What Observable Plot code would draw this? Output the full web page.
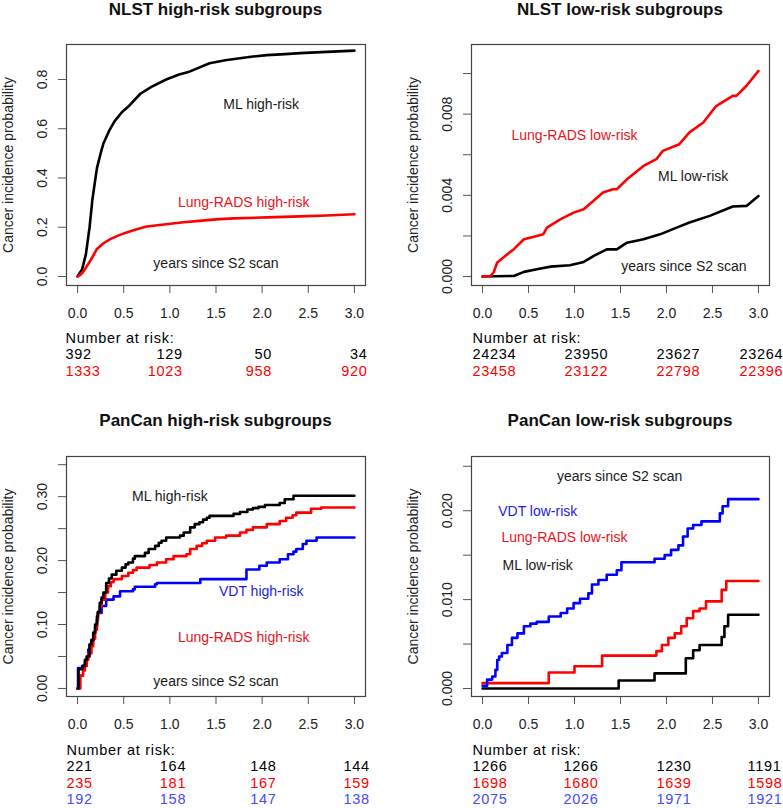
<!DOCTYPE html>
<html><head><meta charset="utf-8">
<script src="https://cdn.jsdelivr.net/npm/d3@7"></script>
<script src="https://cdn.jsdelivr.net/npm/@observablehq/plot@0.6"></script>
<style>
html,body{margin:0;padding:0;background:#fff;}
#root{position:relative;width:783px;height:808px;overflow:hidden;background:#fff;}
.title{position:absolute;font:bold 17px "Liberation Sans",Arial,sans-serif;line-height:19px;text-align:center;color:#111;white-space:nowrap;}
.abs{position:absolute;}
</style></head><body><div id="root"></div>
<script>
// ---------- shared axis values ----------
const xTicks = [0, 0.5, 1, 1.5, 2, 2.5, 3];
const xTickLabels = ["0.0", "0.5", "1.0", "1.5", "2.0", "2.5", "3.0"];
const riskTimes = [0, 1, 2, 3];

// ---------- NLST high-risk ----------
const nlstHighML = [[0,0],[0.05,0.03],[0.09,0.09],[0.13,0.2],[0.16,0.31],[0.19,0.39],[0.21,0.44],[0.25,0.5],[0.28,0.54],[0.34,0.59],[0.4,0.63],[0.48,0.667],[0.55,0.69],[0.68,0.742],[0.8,0.77],[0.96,0.80],[1.1,0.82],[1.2,0.83],[1.43,0.866],[1.6,0.878],[1.7,0.883],[1.9,0.893],[2.05,0.899],[2.25,0.903],[2.41,0.907],[2.7,0.912],[3.0,0.917]];
const nlstHighLungRADS = [[0,0],[0.04,0.01],[0.07,0.024],[0.14,0.065],[0.21,0.112],[0.28,0.135],[0.36,0.153],[0.45,0.168],[0.54,0.18],[0.65,0.193],[0.75,0.203],[0.96,0.212],[1.15,0.22],[1.32,0.226],[1.5,0.232],[1.69,0.236],[2.05,0.240],[2.41,0.244],[2.7,0.248],[3.0,0.253]];
const nlstHighYTicks = [0, 0.2, 0.4, 0.6, 0.8];
const nlstHighYLabelTicks = [0, 0.2, 0.4, 0.6, 0.8];
const nlstHighYLabels = ["0.0", "0.2", "0.4", "0.6", "0.8"];
const nlstHighLabelText = ["ML high-risk", "Lung-RADS high-risk", "years since S2 scan"];
const nlstHighLabelX = [1.99, 1.80, 1.5];
const nlstHighLabelY = [0.70, 0.30, 0.053];
const nlstHighLabelKey = ["ML", "LR", "ML"];
const nlstHighAtRiskML = [392, 129, 50, 34];
const nlstHighAtRiskLungRADS = [1333, 1023, 958, 920];

// ---------- NLST low-risk ----------
const nlstLowLungRADS = [[0,0],[0.087,0.00003],[0.12,0.0002],[0.16,0.00069],[0.27,0.0011],[0.34,0.00135],[0.45,0.00184],[0.59,0.002],[0.66,0.00208],[0.70,0.00241],[0.845,0.00282],[0.99,0.00315],[1.10,0.00332],[1.31,0.00414],[1.42,0.0043],[1.46,0.0043],[1.57,0.00479],[1.75,0.00545],[1.89,0.00578],[1.96,0.00619],[2.14,0.00652],[2.25,0.0071],[2.40,0.00759],[2.54,0.0084],[2.72,0.0089],[2.76,0.0089],[2.87,0.0094],[3.0,0.01013]];
const nlstLowML = [[0,0],[0.34,0.00003],[0.45,0.00023],[0.59,0.00036],[0.74,0.00049],[0.95,0.00056],[1.10,0.00072],[1.21,0.00102],[1.35,0.00134],[1.46,0.00134],[1.57,0.00167],[1.75,0.00184],[1.93,0.00208],[2.11,0.00241],[2.25,0.00266],[2.47,0.00299],[2.72,0.00345],[2.87,0.00348],[3.0,0.00397]];
const nlstLowYTicks = [0, 0.002, 0.004, 0.006, 0.008, 0.010];
const nlstLowYLabelTicks = [0, 0.004, 0.008];
const nlstLowYLabels = ["0.000", "0.004", "0.008"];
const nlstLowLabelText = ["Lung-RADS low-risk", "ML low-risk", "years since S2 scan"];
const nlstLowLabelX = [1.0, 2.29, 2.19];
const nlstLowLabelY = [0.00695, 0.00493, 0.00049];
const nlstLowLabelKey = ["LR", "ML", "ML"];
const nlstLowAtRiskML = [24234, 23950, 23627, 23264];
const nlstLowAtRiskLungRADS = [23458, 23122, 22798, 22396];

// ---------- PanCan high-risk ----------
const panHighML = [[0,0],[0.01,0.03],[0.05,0.035],[0.08,0.045],[0.1,0.05],[0.13,0.069],[0.15,0.075],[0.17,0.087],[0.19,0.10],[0.21,0.113],[0.22,0.12],[0.24,0.134],[0.26,0.142],[0.28,0.15],[0.31,0.165],[0.34,0.172],[0.37,0.178],[0.42,0.184],[0.48,0.189],[0.52,0.194],[0.55,0.197],[0.6,0.203],[0.62,0.207],[0.73,0.212],[0.77,0.218],[0.84,0.223],[0.88,0.228],[0.91,0.231],[0.96,0.236],[1.11,0.239],[1.15,0.244],[1.22,0.252],[1.27,0.257],[1.32,0.26],[1.36,0.264],[1.40,0.267],[1.43,0.27],[1.69,0.273],[1.76,0.276],[1.84,0.28],[1.90,0.282],[1.96,0.284],[2.03,0.287],[2.19,0.290],[2.245,0.296],[2.34,0.3015],[3.0,0.3015]];
const panHighLungRADS = [[0,0],[0.03,0.02],[0.06,0.028],[0.08,0.035],[0.1,0.045],[0.116,0.055],[0.15,0.066],[0.17,0.078],[0.19,0.092],[0.21,0.105],[0.22,0.118],[0.24,0.128],[0.26,0.139],[0.3,0.15],[0.33,0.16],[0.36,0.166],[0.39,0.171],[0.48,0.176],[0.55,0.181],[0.6,0.185],[0.64,0.189],[0.78,0.193],[0.86,0.197],[0.96,0.202],[1.04,0.207],[1.18,0.21],[1.22,0.218],[1.29,0.223],[1.35,0.227],[1.40,0.231],[1.49,0.236],[1.61,0.239],[1.76,0.244],[1.83,0.248],[1.90,0.252],[2.05,0.257],[2.19,0.262],[2.26,0.267],[2.33,0.271],[2.37,0.275],[2.53,0.281],[2.64,0.283],[3.0,0.283]];
const panHighVDT = [[0,0],[0.005,0.032],[0.06,0.036],[0.08,0.042],[0.1,0.05],[0.116,0.061],[0.13,0.068],[0.15,0.076],[0.17,0.087],[0.19,0.097],[0.21,0.108],[0.22,0.118],[0.26,0.129],[0.31,0.139],[0.39,0.144],[0.46,0.152],[0.6,0.155],[0.62,0.159],[0.84,0.163],[0.86,0.165],[1.33,0.171],[1.83,0.186],[1.97,0.192],[2.05,0.197],[2.19,0.202],[2.28,0.21],[2.34,0.214],[2.37,0.218],[2.44,0.226],[2.48,0.231],[2.59,0.236],[3.0,0.236]];
const panHighYTicks = [0, 0.05, 0.10, 0.15, 0.20, 0.25, 0.30, 0.35];
const panHighYLabelTicks = [0, 0.10, 0.20, 0.30];
const panHighYLabels = ["0.00", "0.10", "0.20", "0.30"];
const panHighLabelText = ["ML high-risk", "VDT high-risk", "Lung-RADS high-risk", "years since S2 scan"];
const panHighLabelX = [1.0, 1.99, 1.8, 1.5];
const panHighLabelY = [0.30, 0.152, 0.080, 0.011];
const panHighLabelKey = ["ML", "VDT", "LR", "ML"];
const panHighAtRiskML = [221, 164, 148, 144];
const panHighAtRiskLungRADS = [235, 181, 167, 159];
const panHighAtRiskVDT = [192, 158, 147, 138];

// ---------- PanCan low-risk ----------
const panLowVDT = [[0,0.0003],[0.05,0.001],[0.105,0.00135],[0.14,0.0021],[0.16,0.0032],[0.18,0.0036],[0.21,0.004],[0.27,0.0049],[0.32,0.0057],[0.38,0.0062],[0.45,0.007],[0.52,0.0073],[0.59,0.0075],[0.72,0.0081],[0.85,0.0085],[0.92,0.009],[0.99,0.0096],[1.06,0.0101],[1.15,0.0107],[1.19,0.0117],[1.26,0.0122],[1.35,0.0128],[1.46,0.0133],[1.51,0.0142],[1.87,0.0146],[1.98,0.0150],[2.05,0.0156],[2.13,0.0161],[2.18,0.0171],[2.23,0.018],[2.29,0.0184],[2.38,0.0188],[2.58,0.0197],[2.61,0.0205],[2.67,0.0213],[3.0,0.0213]];
const panLowLungRADS = [[0,0.0006],[0.72,0.0018],[1.0,0.0025],[1.3,0.0037],[1.89,0.0042],[1.95,0.0049],[2.02,0.0057],[2.09,0.0062],[2.16,0.007],[2.22,0.0079],[2.29,0.0087],[2.36,0.009],[2.43,0.0098],[2.6,0.0111],[2.65,0.0121],[3.0,0.0121]];
const panLowML = [[0,0],[1.48,0.0009],[1.87,0.0017],[2.21,0.0034],[2.29,0.0043],[2.36,0.0049],[2.6,0.0058],[2.63,0.007],[2.67,0.0083],[3.0,0.0083]];
const panLowYTicks = [0, 0.005, 0.010, 0.015, 0.020, 0.025];
const panLowYLabelTicks = [0, 0.010, 0.020];
const panLowYLabels = ["0.000", "0.010", "0.020"];
const panLowLabelText = ["years since S2 scan", "VDT low-risk", "Lung-RADS low-risk", "ML low-risk"];
const panLowLabelX = [1.49, 0.6, 0.89, 0.6];
const panLowLabelY = [0.0239, 0.0199, 0.0170, 0.0138];
const panLowLabelKey = ["ML", "VDT", "LR", "ML"];
const panLowAtRiskML = [1266, 1266, 1230, 1191];
const panLowAtRiskLungRADS = [1698, 1680, 1639, 1598];
const panLowAtRiskVDT = [2075, 2026, 1971, 1921];

// ---------- styling ----------
const LINE_COLORS = {ML: "#000000", LR: "#ff0000", VDT: "#0000ff"};
const TEXT_COLORS = {ML: "#1a1a1a", LR: "#e8141c", VDT: "#1c1ce6"};
const TABLE_COLORS = {ML: "#000000", LR: "#ff0000", VDT: "#4848ff"};

const rows = [
  {titleTop: 0, svgTop: 24, marginBottom: 41, tableTop: 328, tableHeight: 60},
  {titleTop: 411, svgTop: 436, marginBottom: 42, tableTop: 740, tableHeight: 68}
];
const cols = [
  {left: 0, width: 392, ml: 66, mr: 27},
  {left: 392, width: 391, ml: 79, mr: 14}
];

const panels = [
  {title: "NLST high-risk subgroups", row: 0, col: 0, yDomain: [-0.0365, 0.942], curve: "linear",
   yTicks: nlstHighYTicks, yLabelTicks: nlstHighYLabelTicks, yLabels: nlstHighYLabels,
   series: [{data: nlstHighML, key: "ML"}, {data: nlstHighLungRADS, key: "LR"}],
   labels: {text: nlstHighLabelText, x: nlstHighLabelX, y: nlstHighLabelY, key: nlstHighLabelKey},
   atRisk: [{values: nlstHighAtRiskML, key: "ML"}, {values: nlstHighAtRiskLungRADS, key: "LR"}],
   colAnchor: ["start", "end", "end", "end"], colDx: [-12, 13, 10, 13]},
  {title: "NLST low-risk subgroups", row: 0, col: 1, yDomain: [-0.00044, 0.01143], curve: "linear",
   yTicks: nlstLowYTicks, yLabelTicks: nlstLowYLabelTicks, yLabels: nlstLowYLabels,
   series: [{data: nlstLowML, key: "ML"}, {data: nlstLowLungRADS, key: "LR"}],
   labels: {text: nlstLowLabelText, x: nlstLowLabelX, y: nlstLowLabelY, key: nlstLowLabelKey},
   atRisk: [{values: nlstLowAtRiskML, key: "ML"}, {values: nlstLowAtRiskLungRADS, key: "LR"}],
   colAnchor: ["start", "start", "start", "start"], colDx: [-10, -10, -10, -19]},
  {title: "PanCan high-risk subgroups", row: 1, col: 0, yDomain: [-0.0126, 0.3628], curve: "step-after",
   yTicks: panHighYTicks, yLabelTicks: panHighYLabelTicks, yLabels: panHighYLabels,
   series: [{data: panHighVDT, key: "VDT"}, {data: panHighLungRADS, key: "LR"}, {data: panHighML, key: "ML"}],
   labels: {text: panHighLabelText, x: panHighLabelX, y: panHighLabelY, key: panHighLabelKey},
   atRisk: [{values: panHighAtRiskML, key: "ML"}, {values: panHighAtRiskLungRADS, key: "LR"}, {values: panHighAtRiskVDT, key: "VDT"}],
   colAnchor: ["start", "start", "start", "start"], colDx: [-11, -10, -12, -11]},
  {title: "PanCan low-risk subgroups", row: 1, col: 1, yDomain: [-0.0009, 0.0261], curve: "step-after",
   yTicks: panLowYTicks, yLabelTicks: panLowYLabelTicks, yLabels: panLowYLabels,
   series: [{data: panLowML, key: "ML"}, {data: panLowLungRADS, key: "LR"}, {data: panLowVDT, key: "VDT"}],
   labels: {text: panLowLabelText, x: panLowLabelX, y: panLowLabelY, key: panLowLabelKey},
   atRisk: [{values: panLowAtRiskML, key: "ML"}, {values: panLowAtRiskLungRADS, key: "LR"}, {values: panLowAtRiskVDT, key: "VDT"}],
   colAnchor: ["start", "start", "start", "start"], colDx: [-10, -11, -10, -11]}
];

const root = document.getElementById("root");
const X_DOMAIN = [-0.12, 3.12];

for (const p of panels) {
  const r = rows[p.row], c = cols[p.col];

  // title (above the chart)
  const t = document.createElement("div");
  t.className = "title";
  t.textContent = p.title;
  t.style.left = (c.left + c.ml) + "px";
  t.style.width = (c.width - c.ml - c.mr) + "px";
  t.style.top = r.titleTop + "px";
  root.appendChild(t);

  const yLabelRows = p.yLabelTicks.map((v, i) => ({v, s: p.yLabels[i]}));
  const labelRows = p.labels.text.map((s, i) => ({s, x: p.labels.x[i], y: p.labels.y[i], key: p.labels.key[i]}));

  const chart = Plot.plot({
    width: c.width, height: 302,
    marginLeft: c.ml, marginRight: c.mr, marginTop: 20, marginBottom: r.marginBottom,
    x: {domain: X_DOMAIN},
    y: {domain: p.yDomain},
    color: {type: "identity"},
    style: {fontFamily: '"Liberation Sans", Arial, sans-serif', fontSize: "14px", color: "#222", background: "transparent", overflow: "visible"},
    marks: [
      Plot.axisX({ticks: xTicks, tickSize: 8, tickPadding: 15, tickFormat: d => xTickLabels[xTicks.indexOf(d)], label: null, stroke: "#555", fill: "#222"}),
      Plot.axisY({ticks: p.yTicks, tickSize: 8, fill: "none", stroke: "#555", label: null}),
      Plot.text(yLabelRows, {y: "v", text: "s", frameAnchor: "left", textAnchor: "middle", rotate: -90, dx: -24, fill: "#222"}),
      Plot.text(["Cancer incidence probability"], {frameAnchor: "left", textAnchor: "middle", rotate: -90, dx: -58, fill: "#222"}),
      ...p.series.map(s => Plot.line(s.data, {x: d => d[0], y: d => d[1], stroke: LINE_COLORS[s.key], strokeWidth: 2.6, curve: p.curve})),
      Plot.text(labelRows, {x: "x", y: "y", text: "s", fill: d => TEXT_COLORS[d.key]}),
      Plot.frame({stroke: "#444", strokeWidth: 1.2})
    ]
  });
  chart.classList.add("abs");
  chart.style.left = c.left + "px";
  chart.style.top = r.svgTop + "px";
  root.appendChild(chart);

  // number-at-risk table, positioned with the same x scale
  const tableRows = p.atRisk.map((g, i) => ({row: i + 1, values: g.values, key: g.key}));
  const table = Plot.plot({
    width: c.width, height: r.tableHeight,
    marginLeft: c.ml, marginRight: c.mr, marginTop: 0, marginBottom: 0,
    x: {domain: X_DOMAIN, axis: null},
    y: {domain: [0, 3], range: [9.5, 59], axis: null},
    color: {type: "identity"},
    style: {fontFamily: '"Liberation Sans", Arial, sans-serif', fontSize: "14.5px", letterSpacing: "0.7px", background: "transparent", overflow: "visible"},
    marks: [
      Plot.text(["Number at risk:"], {x: () => riskTimes[0], y: () => 0, textAnchor: "start", dx: p.colDx[0], fill: "#000"}),
      ...riskTimes.map((tm, ci) => Plot.text(tableRows, {
        x: () => tm, y: "row", text: d => String(d.values[ci]),
        fill: d => TABLE_COLORS[d.key], textAnchor: p.colAnchor[ci], dx: p.colDx[ci]
      }))
    ]
  });
  table.classList.add("abs");
  table.style.left = c.left + "px";
  table.style.top = r.tableTop + "px";
  root.appendChild(table);
}
</script></body></html>
